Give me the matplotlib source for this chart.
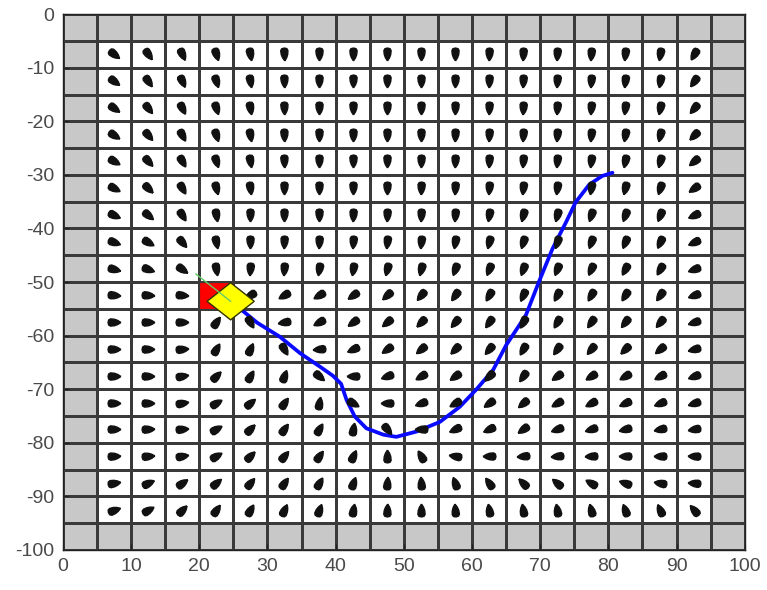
import numpy as np
import matplotlib
matplotlib.use('Agg')
import matplotlib.pyplot as plt
from matplotlib.colors import ListedColormap
from matplotlib.markers import MarkerStyle
from matplotlib.path import Path
from matplotlib.transforms import Affine2D
from matplotlib.patches import Rectangle, Polygon

# mapa 20x20 (celulas de 5 m), borda = obstaculo
cell = 5
n_cells = 20
occupancy = np.zeros((n_cells, n_cells))
occupancy[0, :] = 1
occupancy[-1, :] = 1
occupancy[:, 0] = 1
occupancy[:, -1] = 1

# direcao da corrente em cada celula interna (graus, linha de cima para baixo)
flow_angles = [
    [-38, -55, -65, -72, -80, -87, -90, -90, -90, -90, -90, -92, -93, -94, -95, -97, -100, -120],
    [-36, -55, -65, -72, -80, -88, -90, -90, -90, -90, -91, -92, -93, -94, -95, -97, -100, -125],
    [-35, -52, -63, -72, -80, -88, -90, -90, -90, -90, -91, -92, -93, -94, -96, -98, -102, -130],
    [-33, -50, -62, -72, -80, -88, -90, -90, -90, -90, -92, -93, -94, -95, -97, -100, -104, -135],
    [-30, -48, -60, -72, -80, -88, -90, -90, -90, -91, -92, -93, -95, -96, -98, -102, -106, -140],
    [-28, -45, -60, -75, -82, -90, -90, -90, -90, -92, -93, -95, -97, -98, -100, -104, -108, -145],
    [-25, -40, -58, -80, -90, -90, -90, -92, -92, -93, -95, -100, -105, -105, -108, -110, -112, -155],
    [-20, -30, -50, -78, -90, -92, -93, -95, -97, -97, -100, -105, -108, -108, -110, -112, -115, -155],
    [-15, -20, -35, -80, -95, -95, -100, -100, -105, -105, -110, -112, -110, -112, -115, -118, -120, -160],
    [-5, -3, -5, -30, -150, -150, -150, -145, -138, -130, -125, -120, -115, -118, -120, -122, -125, -160],
    [0, 0, 0, 55, -60, -170, -152, -145, -140, -135, -130, -125, -118, -120, -125, -128, -130, -162],
    [0, 0, 5, 60, 65, -60, -175, -155, -145, -140, -135, -130, -120, -125, -130, -135, -140, -165],
    [0, 0, 10, 45, 60, 70, -40, 180, -160, -150, -145, -135, -125, -145, -148, -150, -152, -160],
    [0, 0, 10, 30, 40, 55, 80, -30, 180, -160, -150, -145, -140, -150, -152, -155, -158, -162],
    [0, 2, 5, 30, 45, 55, 60, 80, -50, 180, -155, -155, -145, -160, -162, -165, -168, -170],
    [2, 5, 10, 30, 45, 50, 55, 65, 90, 120, 170, 180, -175, -175, -178, 180, 180, 178],
    [10, 25, 35, 40, 50, 55, 60, 70, 85, 95, 110, 125, 135, 140, 150, 160, 170, 175],
    [20, 30, 45, 55, 60, 65, 70, 80, 88, 90, 95, 100, 100, 100, 105, 110, 115, 130],
]

# trajetoria do veiculo
path_x = [26.2, 28.5, 31.8, 34.8, 37.7, 39.6, 40.8, 41.6, 42.8, 44.5, 47.0, 48.9, 51.9,
          55.3, 58.2, 60.6, 63.1, 65.0, 67.9, 69.8, 71.8, 73.8, 75.2, 77.2, 79.1, 80.6]
path_y = [-55.2, -57.6, -60.2, -63.3, -65.8, -67.5, -69.0, -72.0, -75.1, -77.3, -78.5, -78.9, -77.9,
          -76.1, -73.3, -70.1, -66.4, -61.8, -56.2, -50.0, -43.8, -38.8, -35.1, -31.8, -30.2, -29.6]

start_cell = (20, -55)          # canto inferior esquerdo da celula inicial
vehicle_pos = (24.6, -53.6)
vehicle_heading = -45           # graus
vehicle_side = 4.9
heading_len = 7.2

x_ticks = list(range(0, 101, 10))
y_ticks = list(range(0, -101, -10))

fig = plt.figure(figsize=(7.67, 5.9), dpi=100)
ax = fig.add_axes([0.082, 0.068, 0.889, 0.908])

x_edges = np.arange(0, n_cells * cell + 1, cell)
y_edges = np.arange(0, -n_cells * cell - 1, -cell)
ax.pcolormesh(x_edges, y_edges, occupancy, cmap=ListedColormap(['white', '#c8c8c8']),
              edgecolors='#3a3a3a', linewidth=0.9, zorder=1)

# setas em forma de gota (ponta na direcao da corrente)
drop = Path([(0.5, 0), (0.25, 0.16), (0.0, 0.25), (-0.3, 0.28), (-0.45, 0.2), (-0.5, 0),
             (-0.45, -0.2), (-0.3, -0.28), (0.0, -0.25), (0.25, -0.16), (0.5, 0)])

ax.plot(path_x, path_y, color='#0a0aff', lw=2.7, solid_capstyle='round', solid_joinstyle='round', zorder=3)

for i, row in enumerate(flow_angles):
    yc = -(i + 1) * cell - cell / 2
    for j, ang in enumerate(row):
        xc = (j + 1) * cell + cell / 2
        m = MarkerStyle(drop, transform=Affine2D().rotate_deg(ang))
        ax.plot(xc, yc, marker=m, markersize=9.3, color='#111111', linestyle='none', zorder=4)

ax.add_patch(Rectangle(start_cell, cell, cell, facecolor='red', edgecolor='#3a3a3a', lw=0.9, zorder=5))

h = np.deg2rad(vehicle_heading)
r = vehicle_side / np.sqrt(2)
corners = [(vehicle_pos[0] + r * np.cos(h + np.pi / 4 + k * np.pi / 2),
            vehicle_pos[1] + r * np.sin(h + np.pi / 4 + k * np.pi / 2)) for k in range(4)]
ax.add_patch(Polygon(corners, closed=True, facecolor='#ffff00', edgecolor='#333300', lw=1, zorder=6))
ax.plot([vehicle_pos[0] - heading_len * np.cos(h), vehicle_pos[0]],
        [vehicle_pos[1] - heading_len * np.sin(h), vehicle_pos[1]],
        color='#66cc66', lw=1, zorder=7)

ax.set_xlim(0, 100)
ax.set_ylim(-100, 0)
ax.set_xticks(x_ticks)
ax.set_yticks(y_ticks)
ax.set_xticklabels([str(t) for t in x_ticks], fontsize=14, color='#4a4a4a', family='Liberation Sans')
ax.set_yticklabels([str(t) for t in y_ticks], fontsize=14, color='#4a4a4a', family='Liberation Sans')
ax.tick_params(direction='in', length=4, width=0.8, color='#222222', pad=6)
for s in ax.spines.values():
    s.set_color('#222222')
    s.set_linewidth(1.0)

fig.savefig('out.png', dpi=100)
